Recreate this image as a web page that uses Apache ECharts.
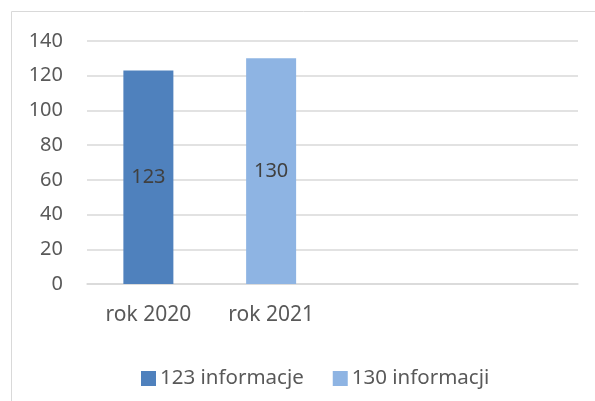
<!DOCTYPE html>
<html>
<head>
<meta charset="utf-8">
<script src="https://cdn.jsdelivr.net/npm/echarts@6/dist/echarts.min.js"></script>
<style>
  html, body { margin: 0; padding: 0; background: #fff; }
  #chart { width: 595px; height: 401px; }
</style>
</head>
<body>
<div id="chart"></div>
<script>
var categories = ['rok 2020', 'rok 2021', '', ''];
var seriesNames = ['123 informacje', '130 informacji'];
var values2020 = [123, '-', '-', '-'];
var values2021 = ['-', 130, '-', '-'];
var colors = ['#4f81bd', '#8eb4e3'];

var myChart = echarts.init(document.getElementById('chart'));
var font = 'Noto Sans';

var option = {
    animation: false,
    color: colors,
    graphic: [{
        type: 'rect',
        shape: { x: 11.5, y: 11.5, width: 700, height: 500 },
        style: { fill: 'none', stroke: '#d9d9d9', lineWidth: 1 }
    }],
    grid: { left: 87, right: 17, top: 41, bottom: 117 },
    legend: {
        left: 136,
        top: 363,
        itemWidth: 15,
        itemHeight: 15,
        itemGap: 29,
        icon: 'rect',
        textStyle: { fontFamily: font, fontSize: 20.5, color: '#595959', padding: [0, 0, 0, -1] },
        data: seriesNames
    },
    xAxis: {
        type: 'category',
        data: categories,
        axisLine: { lineStyle: { color: '#d9d9d9', width: 1.5 } },
        axisTick: { show: false },
        axisLabel: { fontFamily: font, fontSize: 21, color: '#595959', margin: 21, interval: 0 }
    },
    yAxis: {
        type: 'value',
        min: 0,
        max: 140,
        interval: 20,
        axisLine: { show: false },
        axisTick: { show: false },
        splitLine: { lineStyle: { color: '#d9d9d9', width: 1.5 } },
        axisLabel: { fontFamily: font, fontSize: 20, color: '#595959', margin: 24 }
    },
    series: [{
        name: seriesNames[0],
        type: 'bar',
        stack: 'rok',
        barWidth: 50,
        data: values2020,
        label: { show: true, position: 'inside', fontFamily: font, fontSize: 20, color: '#404040' }
    }, {
        name: seriesNames[1],
        type: 'bar',
        stack: 'rok',
        barWidth: 50,
        data: values2021,
        label: { show: true, position: 'inside', fontFamily: font, fontSize: 20, color: '#404040' }
    }]
};

myChart.setOption(option);
</script>
</body>
</html>
